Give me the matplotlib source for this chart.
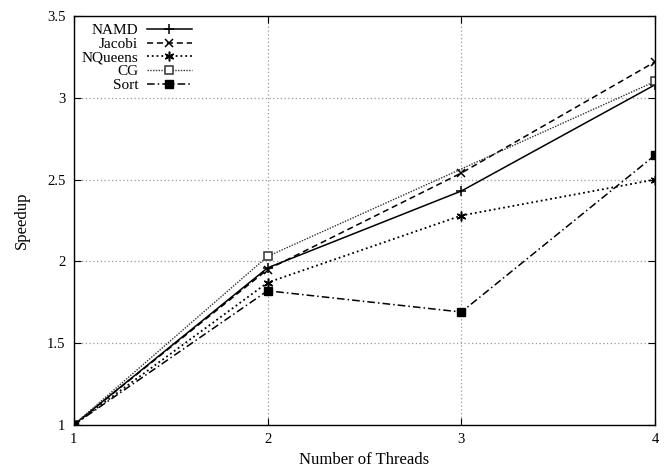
import matplotlib
matplotlib.use('Agg')
import matplotlib.pyplot as plt

# speedup values
threads = [1, 2, 3, 4]
namd = [1.0, 1.96, 2.43, 3.08]
jacobi = [1.0, 1.95, 2.54, 3.22]
nqueens = [1.0, 1.87, 2.28, 2.50]
cg_threads = [1, 2, 4]
cg = [1.0, 2.03, 3.10]
sort = [1.0, 1.82, 1.69, 2.65]

yticks = [1, 1.5, 2, 2.5, 3, 3.5]
ytick_labels = ['1', '1.5', '2', '2.5', '3', '3.5']

plt.rcParams['font.family'] = 'Liberation Serif'
plt.rcParams['font.size'] = 10

fig = plt.figure(figsize=(6.7, 4.69), dpi=100)
ax = fig.add_axes([0.110, 0.094, 0.868, 0.872])

ax.plot(threads, namd, '-', color='black', lw=1.1, marker='+', ms=7, mew=1.1, label='NAMD')
ax.plot(threads, jacobi, '--', color='black', lw=1.1, marker='x', ms=6, mew=1.1,
        dashes=(4, 2.5), label='Jacobi')
ax.plot(threads, nqueens, ':', color='black', lw=1.3, marker=(6, 2, 0), ms=7, mew=1.1,
        label='NQueens')
ax.plot(cg_threads, cg, ':', color='#333333', lw=1.0, marker='s', ms=6, mfc='white',
        mec='#333333', mew=1.1, dashes=(1, 1), label='CG')
ax.plot(threads, sort, '-.', color='black', lw=1.1, marker='s', ms=6,
        dashes=(5, 2, 1, 2), label='Sort')

ax.set_xlim(1, 4)
ax.set_ylim(1, 3.5)
ax.set_xticks(threads)
ax.set_xticklabels([str(t) for t in threads])
ax.set_yticks(yticks)
ax.set_yticklabels(ytick_labels)
ax.tick_params(direction='in', top=True, right=True, length=5, pad=6, labelsize=10.5)
ax.grid(True, color='#999999', linestyle=(0, (1, 2)), lw=0.9)
for s in ax.spines.values():
    s.set_linewidth(1.0)

ax.set_xlabel('Number of Threads', fontsize=12, labelpad=4)
ax.set_ylabel('Speedup', fontsize=12, labelpad=12)

leg = ax.legend(loc='upper left', markerfirst=False, frameon=False, handlelength=2.9,
                handletextpad=0.6, labelspacing=0.0, borderaxespad=0.1, fontsize=11)

fig.savefig('out.png', dpi=100)
